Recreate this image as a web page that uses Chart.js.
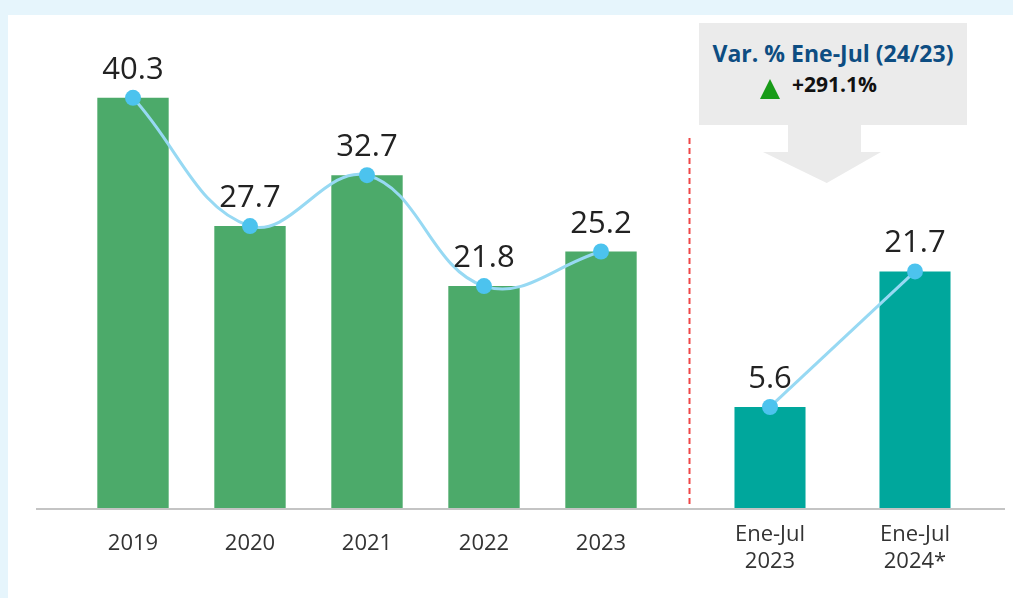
<!DOCTYPE html>
<html>
<head>
<meta charset="utf-8">
<script src="https://cdn.jsdelivr.net/npm/chart.js@4"></script>
<style>
    body { margin: 0; width: 1013px; height: 598px; background: #e6f5fc; overflow: hidden; font-family: "Open Sans", sans-serif; }
    #panel { position: absolute; left: 8px; top: 15px; width: 1005px; height: 583px; background: #fff; }
    #leftWrap { position: absolute; left: 8px; top: 15px; width: 680px; height: 583px; }
    #rightWrap { position: absolute; left: 688px; top: 15px; width: 325px; height: 583px; }
    .callout { position: absolute; background: #ebebeb; }
    #box { left: 699px; top: 23px; width: 268px; height: 102px; }
    #stem { left: 788px; top: 124px; width: 73px; height: 29px; }
    #tip { left: 763px; top: 152px; width: 118px; height: 31px; clip-path: polygon(0 0, 100% 0, 54% 100%); }
    #varTitle { position: absolute; left: 699px; width: 268px; top: 39px; text-align: center; font-weight: bold; font-size: 23px; color: #0d4d82; line-height: 28px; }
    #varValue { position: absolute; left: 792px; top: 70px; font-weight: bold; font-size: 21px; color: #111; line-height: 28px; }
    #upMark { position: absolute; left: 760px; top: 79px; width: 20px; height: 20px; background: #189b18; clip-path: polygon(50% 0, 100% 100%, 0 100%); }
</style>
</head>
<body>
<div id="panel"></div>
<div id="leftWrap"><canvas id="leftChart"></canvas></div>
<div id="rightWrap"><canvas id="rightChart"></canvas></div>
<div id="box" class="callout"></div>
<div id="stem" class="callout"></div>
<div id="tip" class="callout"></div>
<div id="varTitle">Var. % Ene-Jul (24/23)</div>
<div id="upMark"></div>
<div id="varValue">+291.1%</div>
<script>
// annual totals
const years = ['2019', '2020', '2021', '2022', '2023'];
const yearValues = [40.3, 27.7, 32.7, 21.8, 25.2];

// January-July comparison
const periods = [['Ene-Jul', '2023'], ['Ene-Jul', '2024*']];
const periodValues = [5.6, 21.7];

const lineColor = '#97d9f3';
const dotColor = '#4cc3ee';

Chart.defaults.font.family = '"Open Sans", sans-serif';
Chart.defaults.animation = false;

// numbers above the dots, plus baseline and dashed separator
const valueLabels = {
    id: 'valueLabels',
    afterDatasetsDraw(chart, args, opts) {
        const ctx = chart.ctx;
        const meta = chart.getDatasetMeta(0);
        const data = chart.data.datasets[0].data;
        ctx.save();
        // axis line
        ctx.strokeStyle = '#c4c4c4';
        ctx.lineWidth = 2;
        ctx.beginPath();
        ctx.moveTo(opts.lineFrom, chart.chartArea.bottom + 1);
        ctx.lineTo(opts.lineTo, chart.chartArea.bottom + 1);
        ctx.stroke();
        if (opts.separator) {
            ctx.strokeStyle = '#ef4646';
            ctx.lineWidth = 2;
            ctx.setLineDash([6, 4]);
            ctx.beginPath();
            ctx.moveTo(1.5, 123);
            ctx.lineTo(1.5, chart.chartArea.bottom);
            ctx.stroke();
            ctx.setLineDash([]);
        }
        ctx.fillStyle = '#222';
        ctx.font = '31px "Open Sans", sans-serif';
        ctx.textAlign = 'center';
        ctx.textBaseline = 'alphabetic';
        meta.data.forEach((pt, i) => {
            ctx.fillText(data[i].toFixed(1), pt.x, pt.y - 19);
        });
        ctx.restore();
    }
};

function makeChart(id, labels, values, barColor, yMin, yMax, tension, pad, tickPad, barPct, plugOpts) {
    return new Chart(document.getElementById(id), {
        type: 'bar',
        data: {
            labels: labels,
            datasets: [
                {
                    type: 'line',
                    data: values,
                    borderColor: lineColor,
                    borderWidth: 3,
                    tension: tension,
                    pointRadius: 8,
                    pointBackgroundColor: dotColor,
                    pointBorderWidth: 0,
                    order: 0
                },
                {
                    data: values,
                    backgroundColor: barColor,
                    base: yMin,
                    categoryPercentage: 1,
                    barPercentage: barPct,
                    order: 1
                }
            ]
        },
        options: {
            responsive: true,
            maintainAspectRatio: false,
            layout: { padding: pad },
            plugins: {
                legend: { display: false },
                tooltip: { enabled: false },
                valueLabels: plugOpts
            },
            scales: {
                x: {
                    offset: true,
                    grid: { display: false, drawTicks: false },
                    border: { display: false },
                    ticks: { color: '#333', padding: tickPad, font: { size: 22 }, maxRotation: 0 },
                    afterFit: (scale) => { scale.height = 90; }
                },
                y: {
                    display: false,
                    min: yMin,
                    max: yMax
                }
            }
        },
        plugins: [valueLabels]
    });
}

document.addEventListener('DOMContentLoaded', () => {
    makeChart('leftChart', years, yearValues, '#4caa6a', 0, 45, 0.4,
        { top: 35, left: 66.5, right: 28.5, bottom: 0 }, 23, 0.61,
        { lineFrom: 28, lineTo: 680, separator: false });
    makeChart('rightChart', periods, periodValues, '#00a79c', -6.4, 48, 0,
        { top: 35, left: 9.5, right: 25.5, bottom: 0 }, 14, 0.49,
        { lineFrom: 0, lineTo: 317, separator: true });
});
</script>
</body>
</html>
